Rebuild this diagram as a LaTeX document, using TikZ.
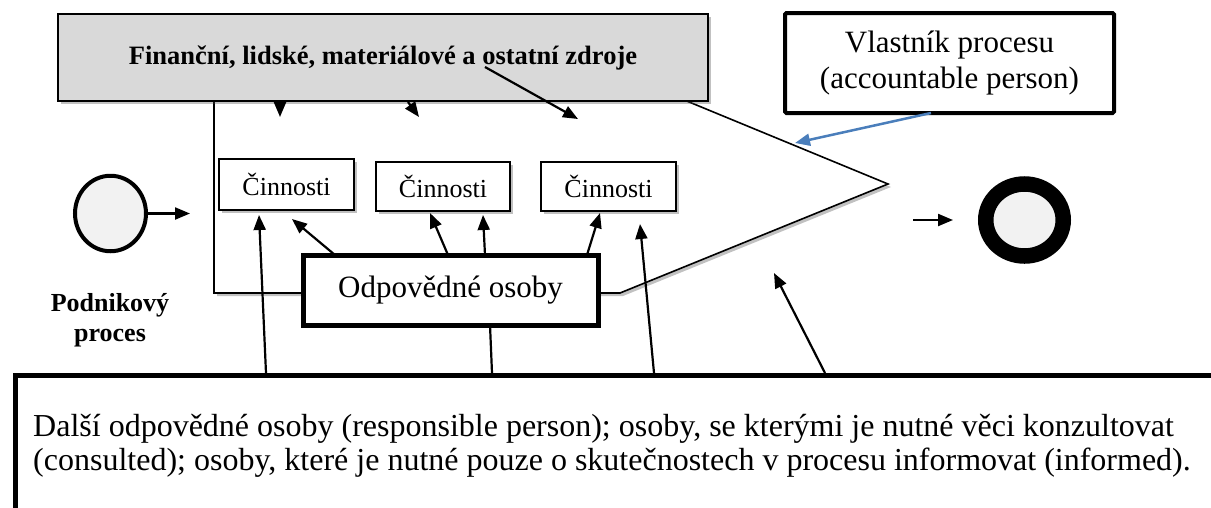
\documentclass[tikz,border=0pt]{standalone}
\usepackage{fontspec}
\setmainfont{Liberation Serif}
\usetikzlibrary{arrows.meta,shadows,shapes.geometric}
\definecolor{boxgrey}{HTML}{D9D9D9}
\definecolor{circfill}{HTML}{F2F2F2}
\definecolor{accblue}{HTML}{4A7EBB}
\begin{document}
\begin{tikzpicture}[x=1pt,y=-1pt,
  shad/.style={drop shadow={shadow xshift=3pt,shadow yshift=-3pt,opacity=0.35,fill=black!70}},
  resbox/.style={draw,line width=1.5pt,fill=boxgrey,minimum width=650pt,minimum height=87pt,inner sep=0pt,shad,
    font=\bfseries\fontsize{26.5}{30}\selectfont},
  ownerbox/.style={draw,line width=4pt,fill=white,rounded corners=1.5pt,minimum width=329pt,minimum height=100pt,
    align=center,inner sep=0pt,font=\fontsize{31}{36}\selectfont},
  actbox/.style={draw,line width=1.5pt,fill=white,minimum height=49pt,inner sep=0pt,shad,
    font=\fontsize{26}{30}\selectfont},
  respbox/.style={draw,line width=5pt,fill=white,minimum width=295pt,minimum height=70pt,inner sep=0pt,shad,
    font=\fontsize{31}{36}\selectfont},
  otherbox/.style={draw,line width=5pt,fill=white,minimum width=1240pt,minimum height=180pt,inner sep=0pt,anchor=north west},
  bottxt/.style={anchor=base west,inner sep=0pt,font=\fontsize{32}{34}\selectfont},
  arr/.style={-{Triangle[length=15pt,width=12pt]},line width=2.2pt},
  thinln/.style={line width=2.2pt}
]
\useasboundingbox (0,0) rectangle (1211,507);
\clip (0,0) rectangle (1211,507);
% process shape
\draw[shad,fill=white,line width=1.6pt] (214,90) -- (660,90) -- (888,184) -- (620,293) -- (214,293) -- cycle;
% resources box
\node[resbox] (res) at (383,57.5) {Finanční, lidské, materiálové a ostatní zdroje};
% owner box
\node[ownerbox] (own) at (949.5,63) {Vlastník procesu\\(accountable person)};
% activities
\node[actbox,minimum width=135pt,minimum height=51pt] (c1) at (286.5,184.5) {Činnosti};
\node[actbox,minimum width=134pt] (c2) at (443,186.5) {Činnosti};
\node[actbox,minimum width=135pt] (c3) at (608.5,186.5) {Činnosti};
% start and end events
\node[ellipse,draw,line width=4pt,fill=circfill,minimum width=71pt,minimum height=75.5pt,inner sep=0pt] (start) at (110.5,213.5) {};
\node[ellipse,draw,line width=15.5pt,fill=circfill,minimum width=77.5pt,minimum height=72pt,inner sep=0pt,shad] (end) at (1024.5,220) {};
\node[align=center,inner sep=0pt,font=\bfseries\fontsize{26}{30}\selectfont] (proc) at (110,320) {Podnikový\\proces};
% responsible persons
\node[respbox] (odp) at (450.5,290) {Odpovědné osoby};
% others box
\node[otherbox] (oth) at (13,373) {};
\node[bottxt] (t1) at (33,436) {Další odpovědné osoby (responsible person); osoby, se kterými je nutné věci konzultovat};
\node[bottxt] (t2) at (33,470) {(consulted); osoby, které je nutné pouze o skutečnostech v procesu informovat (informed).};
% coordinates of connector ends
\coordinate (sA) at (190,213.5);
\coordinate (a1s) at (280,101); \coordinate (a1e) at (280,117);
\coordinate (a2s) at (408,102); \coordinate (a2e) at (419,117);
\coordinate (a3s) at (485,67);  \coordinate (a3e) at (578,119);
\coordinate (bls) at (931,113); \coordinate (ble) at (795,143);
\coordinate (eAs) at (913,220); \coordinate (eAe) at (953,220);
\coordinate (o1s) at (335,255); \coordinate (o1e) at (292,219);
\coordinate (o2s) at (448,255); \coordinate (o2e) at (430,213);
\coordinate (o3s) at (485,255); \coordinate (o3e) at (483,215);
\coordinate (o4s) at (587,255); \coordinate (o4e) at (600,213);
\coordinate (b1s) at (266,373); \coordinate (b1e) at (259,215);
\coordinate (b2s) at (654,373); \coordinate (b2e) at (640,224);
\coordinate (b3s) at (825,373); \coordinate (b3e) at (774,273);
\coordinate (l1s) at (490,325); \coordinate (l1e) at (492,373);
% connectors
\draw[arr] (start.east) -- (sA);
\draw[arr] (a1s) -- (a1e);
\draw[arr] (a2s) -- (a2e);
\draw[arr] (a3s) -- (a3e);
\draw[arr,draw=accblue,line width=2.5pt,-{Triangle[length=15pt,width=12pt,fill=accblue]}] (bls) -- (ble);
\draw[arr] (eAs) -- (eAe);
\draw[arr] (o1s) -- (o1e);
\draw[arr] (o2s) -- (o2e);
\draw[arr] (o3s) -- (o3e);
\draw[arr] (o4s) -- (o4e);
\draw[arr] (b1s) -- (b1e);
\draw[arr] (b2s) -- (b2e);
\draw[arr] (b3s) -- (b3e);
\draw[thinln] (l1s) -- (l1e);
\end{tikzpicture}
\end{document}
